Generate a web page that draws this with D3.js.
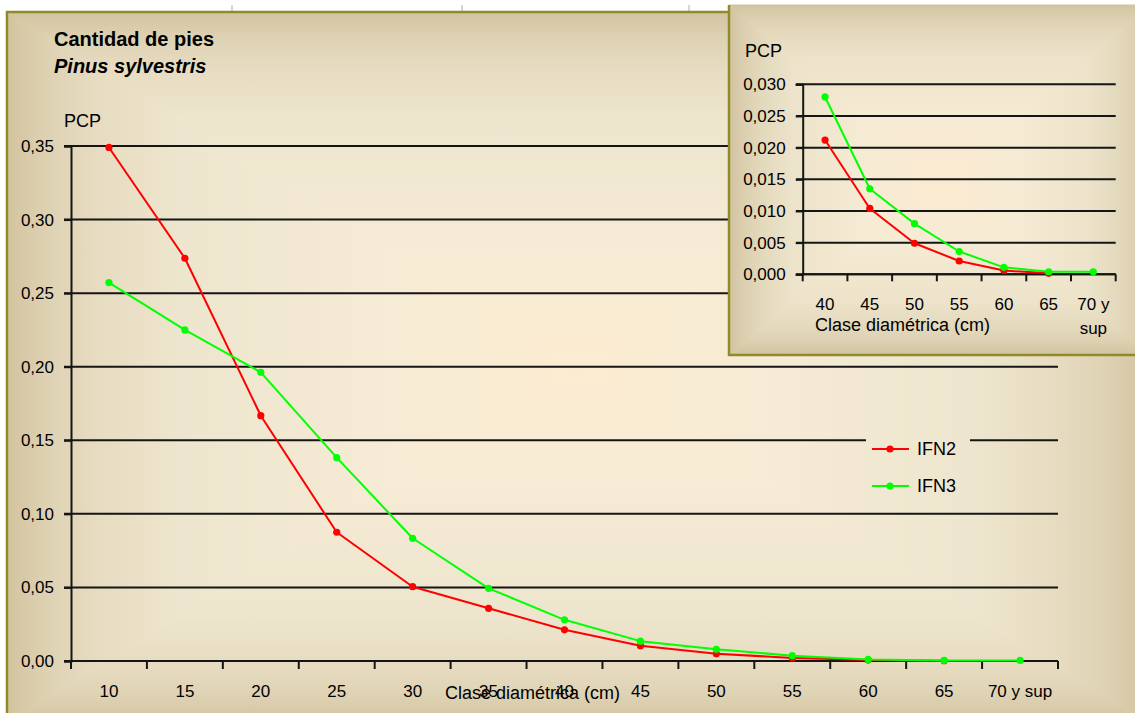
<!DOCTYPE html>
<html>
<head>
<meta charset="utf-8">
<script src="https://cdn.jsdelivr.net/npm/d3@7"></script>
<style>
  html, body { margin: 0; padding: 0; background: #ffffff; }
  svg { display: block; }
  text { font-family: "Liberation Sans", Arial, sans-serif; fill: #000; }
</style>
</head>
<body>
<svg id="chart" width="1135" height="713"></svg>
<script>
// Diameter classes (cm) and share of trees per class (PCP) for each inventory
const categories = ["10", "15", "20", "25", "30", "35", "40", "45", "50", "55", "60", "65", "70 y sup"];
const ifn2 = [0.349, 0.2737, 0.1667, 0.0875, 0.0505, 0.0358, 0.0212, 0.0104, 0.0049, 0.0021, 0.0006, 0.00016, null];
const ifn3 = [0.2572, 0.225, 0.1962, 0.1382, 0.0834, 0.0494, 0.0280, 0.0135, 0.0080, 0.0036, 0.0011, 0.0004, 0.0004];
const seriesNames = ["IFN2", "IFN3"];
const seriesColors = ["#ff0000", "#00ff00"];
const mainYTicks = [0, 0.05, 0.10, 0.15, 0.20, 0.25, 0.30, 0.35];
const insetYTicks = [0, 0.005, 0.010, 0.015, 0.020, 0.025, 0.030];
const insetCategories = categories.slice(categories.indexOf("40"));

const titleLines = ["Cantidad de pies", "Pinus sylvestris"];
const yTitle = "PCP";
const xTitle = "Clase diamétrica (cm)";

const svg = d3.select("#chart");
const defs = svg.append("defs");
const comma = d3.formatLocale({ decimal: ",", thousands: ".", grouping: [3], currency: ["", "€"] });
const fmt2 = comma.format(".2f");
const fmt3 = comma.format(".3f");

const series = [ifn2, ifn3].map((vals, i) => ({
  name: seriesNames[i],
  color: seriesColors[i],
  values: categories.map((c, j) => ({ cat: c, v: vals[j] }))
}));

// "From center" rectangular gradient built from four triangles, each with a linear ramp
function rectGradient(parent, id, x0, y0, x1, y1, stops) {
  const cx = (x0 + x1) / 2, cy = (y0 + y1) / 2;
  const parts = [
    { k: "t", pts: [[x0, y0], [x1, y0], [cx, cy]], g: [cx, y0, cx, cy] },
    { k: "b", pts: [[x0, y1], [x1, y1], [cx, cy]], g: [cx, y1, cx, cy] },
    { k: "l", pts: [[x0, y0], [x0, y1], [cx, cy]], g: [x0, cy, cx, cy] },
    { k: "r", pts: [[x1, y0], [x1, y1], [cx, cy]], g: [x1, cy, cx, cy] }
  ];
  parts.forEach(p => {
    const lg = defs.append("linearGradient")
      .attr("id", id + "-" + p.k)
      .attr("gradientUnits", "userSpaceOnUse")
      .attr("x1", p.g[0]).attr("y1", p.g[1]).attr("x2", p.g[2]).attr("y2", p.g[3]);
    stops.slice().reverse().forEach(s => {
      lg.append("stop").attr("offset", 1 - s[0]).attr("stop-color", s[1]);
    });
    parent.append("path")
      .attr("d", "M" + p.pts.map(q => q.join(",")).join("L") + "Z")
      .attr("fill", `url(#${id}-${p.k})`)
      .attr("stroke", `url(#${id}-${p.k})`)
      .attr("stroke-width", 1);
  });
}

// Sheet grid remnants above the chart objects
svg.append("g").selectAll("line").data([232, 462, 689]).join("line")
  .attr("x1", d => d).attr("x2", d => d).attr("y1", 5).attr("y2", 12)
  .attr("stroke", "#d6d6d6").attr("stroke-width", 2);

// ---------- Main chart ----------
const main = svg.append("g");
const panel = { x0: 7, y0: 12, x1: 1147, y1: 722 };
const bgStops = [[0, "#fbecd1"], [0.35, "#f6ebd5"], [0.7, "#ede5cd"], [0.84, "#e7dcc1"], [0.92, "#dfd3b5"], [1, "#d3c4a0"]];
rectGradient(main, "mainbg", panel.x0, panel.y0, panel.x1, panel.y1, bgStops);
main.append("rect")
  .attr("x", panel.x0).attr("y", panel.y0)
  .attr("width", panel.x1 - panel.x0).attr("height", panel.y1 - panel.y0)
  .attr("fill", "none").attr("stroke", "#8e8c2a").attr("stroke-width", 2.5);

const x = d3.scaleBand().domain(categories).range([71, 1058]).paddingInner(0).paddingOuter(0);
const y = d3.scaleLinear().domain([0, 0.35]).range([661, 146]);
const gridLeft = 64;

// horizontal gridlines
main.append("g").selectAll("line").data(mainYTicks).join("line")
  .attr("x1", gridLeft).attr("x2", x.range()[1])
  .attr("y1", d => y(d)).attr("y2", d => y(d))
  .attr("stroke", "#151515").attr("stroke-width", 2);

// y axis
const yAxis = main.append("g").attr("transform", `translate(${x.range()[0]},0)`)
  .call(d3.axisLeft(y).tickValues(mainYTicks).tickFormat(fmt2).tickSize(7).tickPadding(10));
yAxis.select(".domain").attr("stroke", "#151515").attr("stroke-width", 2);
yAxis.selectAll(".tick line").attr("stroke", "#151515").attr("stroke-width", 2);
yAxis.selectAll("text").attr("font-size", 17).attr("font-family", null).attr("fill", "#000");

// x axis: line, category-boundary ticks, centered labels
const bounds = d3.range(categories.length + 1).map(i => x.range()[0] + i * x.step());
main.append("line").attr("x1", x.range()[0]).attr("x2", x.range()[1])
  .attr("y1", y(0)).attr("y2", y(0)).attr("stroke", "#151515").attr("stroke-width", 2);
main.append("g").selectAll("line").data(bounds).join("line")
  .attr("x1", d => d).attr("x2", d => d).attr("y1", y(0)).attr("y2", y(0) + 8)
  .attr("stroke", "#151515").attr("stroke-width", 2);
main.append("g").selectAll("text").data(categories).join("text")
  .attr("x", d => x(d) + x.bandwidth() / 2).attr("y", 697)
  .attr("text-anchor", "middle").attr("font-size", 17).text(d => d);

main.append("text").attr("x", 445).attr("y", 699).attr("font-size", 18).text(xTitle);
main.append("text").attr("x", 64).attr("y", 127).attr("font-size", 18).text(yTitle);

// chart title
main.append("text").attr("x", 54).attr("y", 46).attr("font-size", 20).attr("font-weight", "bold").text(titleLines[0]);
main.append("text").attr("x", 54).attr("y", 73).attr("font-size", 20).attr("font-weight", "bold")
  .attr("font-style", "italic").text(titleLines[1]);

function drawSeries(g, xs, ys, cats) {
  const line = d3.line()
    .defined(d => d.v != null)
    .x(d => xs(d.cat) + xs.bandwidth() / 2)
    .y(d => ys(d.v));
  series.forEach(s => {
    const pts = s.values.filter(d => cats.includes(d.cat));
    g.append("path").datum(pts).attr("d", line)
      .attr("fill", "none").attr("stroke", s.color).attr("stroke-width", 2).attr("stroke-linejoin", "round");
    g.append("g").selectAll("circle").data(pts.filter(d => d.v != null)).join("circle")
      .attr("cx", d => xs(d.cat) + xs.bandwidth() / 2).attr("cy", d => ys(d.v))
      .attr("r", 3.6).attr("fill", s.color);
  });
}
drawSeries(main.append("g"), x, y, categories);

// legend (its box masks the gridline behind it)
const legend = main.append("g");
legend.append("rect").attr("x", 866).attr("y", 425).attr("width", 104).attr("height", 80)
  .attr("fill", "url(#mainbg-r)");
series.forEach((s, i) => {
  const ly = 449 + i * 37;
  legend.append("line").attr("x1", 872).attr("x2", 909).attr("y1", ly).attr("y2", ly)
    .attr("stroke", s.color).attr("stroke-width", 2);
  legend.append("circle").attr("cx", 890).attr("cy", ly).attr("r", 3.6).attr("fill", s.color);
  legend.append("text").attr("x", 917).attr("y", ly).attr("dy", "0.36em").attr("font-size", 18).text(s.name);
});

// ---------- Inset: detail of the larger classes ----------
const inset = svg.append("g");
const ip = { x0: 729, y0: 5, x1: 1152, y1: 355 };
const insetStops = [[0, "#fbead0"], [0.35, "#f6ebd4"], [0.7, "#ece3ca"], [0.85, "#e3d8bb"], [0.93, "#dbcfb0"], [1, "#d3c4a0"]];
rectGradient(inset, "insetbg", ip.x0, ip.y0, ip.x1, ip.y1, insetStops);
inset.append("path")
  .attr("d", `M${ip.x0},${ip.y0}V${ip.y1}H${ip.x1}`)
  .attr("fill", "none").attr("stroke", "#8e8c2a").attr("stroke-width", 2.5);

const xi = d3.scaleBand().domain(insetCategories).range([802.7, 1115.7]).paddingInner(0).paddingOuter(0);
const yi = d3.scaleLinear().domain([0, 0.03]).range([274.3, 84.3]);

inset.append("g").selectAll("line").data(insetYTicks).join("line")
  .attr("x1", 796).attr("x2", xi.range()[1])
  .attr("y1", d => yi(d)).attr("y2", d => yi(d))
  .attr("stroke", "#151515").attr("stroke-width", 2);
const yiAxis = inset.append("g").attr("transform", `translate(${xi.range()[0]},0)`)
  .call(d3.axisLeft(yi).tickValues(insetYTicks).tickFormat(fmt3).tickSize(7).tickPadding(10));
yiAxis.select(".domain").attr("stroke", "#151515").attr("stroke-width", 2);
yiAxis.selectAll(".tick line").attr("stroke", "#151515").attr("stroke-width", 2);
yiAxis.selectAll("text").attr("font-size", 17).attr("font-family", null).attr("fill", "#000");

const ibounds = d3.range(insetCategories.length + 1).map(i => xi.range()[0] + i * xi.step());
inset.append("line").attr("x1", xi.range()[0]).attr("x2", xi.range()[1])
  .attr("y1", yi(0)).attr("y2", yi(0)).attr("stroke", "#151515").attr("stroke-width", 2);
inset.append("g").selectAll("line").data(ibounds).join("line")
  .attr("x1", d => d).attr("x2", d => d).attr("y1", yi(0)).attr("y2", yi(0) + 7)
  .attr("stroke", "#151515").attr("stroke-width", 2);

// category labels wrap to the band width
const ilabels = inset.append("g").selectAll("text").data(insetCategories).join("text")
  .attr("x", d => xi(d) + xi.bandwidth() / 2).attr("y", 310)
  .attr("text-anchor", "middle").attr("font-size", 17);
ilabels.each(function (d) {
  const words = d.split(" ");
  const lines = words.length > 2 ? [words.slice(0, 2).join(" "), words.slice(2).join(" ")] : [d];
  d3.select(this).selectAll("tspan").data(lines).join("tspan")
    .attr("x", xi(d) + xi.bandwidth() / 2)
    .attr("dy", (l, k) => k === 0 ? 0 : 24)
    .text(l => l);
});

inset.append("text").attr("x", 815).attr("y", 331).attr("font-size", 18).text(xTitle);
inset.append("text").attr("x", 745).attr("y", 57).attr("font-size", 18).text(yTitle);

drawSeries(inset.append("g"), xi, yi, insetCategories);
</script>
</body>
</html>
